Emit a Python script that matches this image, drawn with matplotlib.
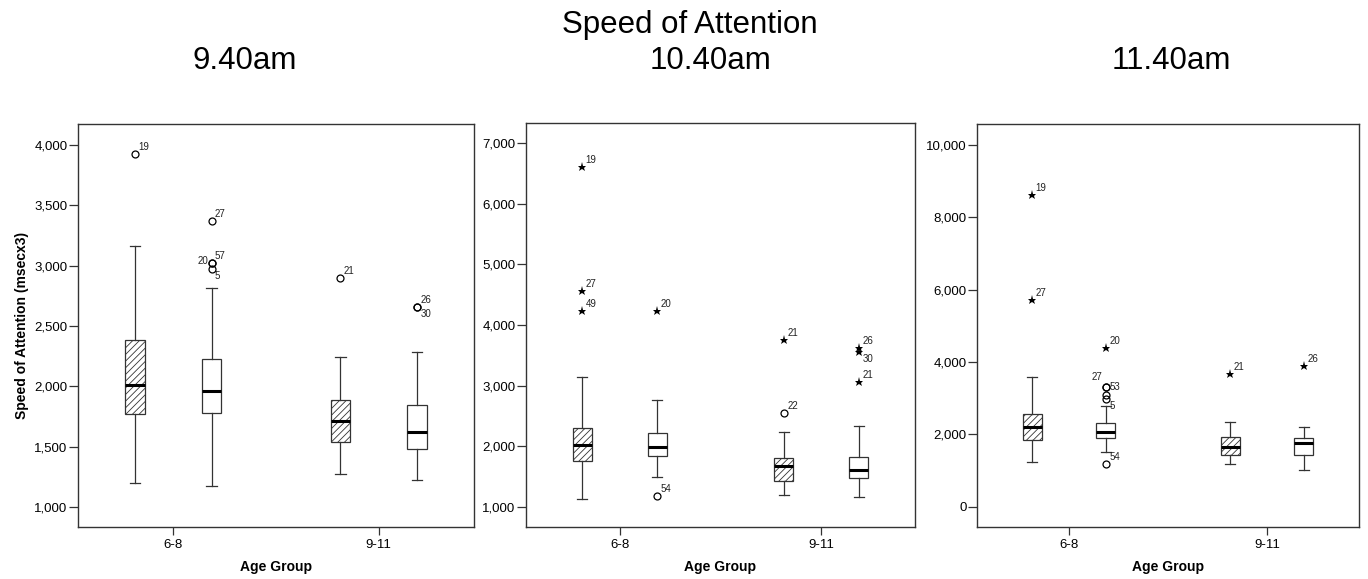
import matplotlib
matplotlib.use("Agg")
import matplotlib.pyplot as plt
from matplotlib.ticker import FuncFormatter

plt.rcParams['font.family'] = ['Liberation Sans', 'DejaVu Sans']
plt.rcParams['hatch.linewidth'] = 0.6
plt.rcParams['hatch.color'] = '#333333'

age_groups = ["6-8", "9-11"]
session_times = ["9.40am", "10.40am", "11.40am"]

# four boxes per session: 6-8 hatched, 6-8 plain, 9-11 hatched, 9-11 plain
low_940 = [1202, 1171, 1277, 1227]
q1_940 = [1774, 1780, 1536, 1484]
med_940 = [2015, 1962, 1713, 1622]
q3_940 = [2382, 2230, 1890, 1841]
high_940 = [3162, 2811, 2239, 2286]
# (box, value, case label, marker)
out_940 = [(0, 3923, "19", "o"), (1, 3370, "27", "o"), (1, 3025, "20", "o"),
           (1, 3025, "57", "o"), (1, 2975, "5", "o"), (2, 2894, "21", "o"),
           (3, 2656, "26", "o"), (3, 2656, "30", "o")]

low_1040 = [1127, 1495, 1187, 1165]
q1_1040 = [1760, 1831, 1424, 1473]
med_1040 = [2024, 1991, 1677, 1611]
q3_1040 = [2305, 2211, 1798, 1826]
high_1040 = [3141, 2761, 2228, 2338]
out_1040 = [(0, 6615, "19", "*"), (0, 4567, "27", "*"), (0, 4237, "49", "*"),
            (1, 4237, "20", "*"), (1, 1182, "54", "o"), (2, 3752, "21", "*"),
            (2, 2541, "22", "o"), (3, 3615, "26", "*"), (3, 3560, "30", "*"),
            (3, 3064, "21", "*")]

low_1140 = [1226, 1512, 1171, 1014]
q1_1140 = [1843, 1908, 1429, 1429]
med_1140 = [2194, 2074, 1641, 1751]
q3_1140 = [2553, 2313, 1917, 1908]
high_1140 = [3585, 2783, 2350, 2212]
out_1140 = [(0, 8618, "19", "*"), (0, 5705, "27", "*"), (1, 4396, "20", "*"),
            (1, 3300, "27", "o"), (1, 3300, "53", "o"), (1, 3088, "", "o"),
            (1, 2977, "5", "o"), (1, 1171, "54", "o"), (2, 3668, "21", "*"),
            (3, 3889, "26", "*")]

# where the case label sits next to its marker: (panel, box, label)
label_side = {(0, 1, "20"): "l", (0, 1, "5"): "lr", (0, 3, "30"): "lr",
              (1, 3, "30"): "lr",
              (2, 1, "27"): "ul", (2, 1, "53"): "r", (2, 1, "5"): "lr"}
side_style = {"ur": ((2.5, 1.5), "left", "bottom"),
              "lr": ((2.5, -1.5), "left", "top"),
              "r": ((3, 0), "left", "center"),
              "l": ((-2.5, 1.5), "right", "center"),
              "ul": ((-2.5, 4), "right", "bottom")}

panels = [
    (low_940, q1_940, med_940, q3_940, high_940, out_940),
    (low_1040, q1_1040, med_1040, q3_1040, high_1040, out_1040),
    (low_1140, q1_1140, med_1140, q3_1140, high_1140, out_1140),
]
ylims = [(834, 4174), (665, 7335), (-561, 10580)]
ysteps = [500, 1000, 2000]
ystarts = [1000, 1000, 0]
ax_px = [(78, 474, 124, 527), (526, 915, 123, 527), (977, 1359, 124, 527)]

W, H = 1368, 579
fig = plt.figure(figsize=(W / 100, H / 100), dpi=100)

dark = '#333333'
offs = 0.186
positions = [1 - offs, 1 + offs, 2 - offs, 2 + offs]

for k, (lo, q1, med, q3, hi, outs) in enumerate(panels):
    l, r, t, b = ax_px[k]
    ax = fig.add_axes([l / W, 1 - b / H, (r - l) / W, (b - t) / H])
    stats = [dict(whislo=lo[i], q1=q1[i], med=med[i], q3=q3[i], whishi=hi[i], fliers=[])
             for i in range(4)]
    bp = ax.bxp(stats, positions=positions, widths=0.095, capwidths=0.05,
                patch_artist=True, showfliers=False, manage_ticks=False,
                boxprops=dict(edgecolor=dark, linewidth=0.9),
                whiskerprops=dict(color=dark, linewidth=0.9),
                capprops=dict(color=dark, linewidth=0.9),
                medianprops=dict(color='black', linewidth=2.2, solid_capstyle='butt'))
    for i, patch in enumerate(bp['boxes']):
        patch.set_facecolor('white')
        if i % 2 == 0:
            patch.set_hatch('/////')

    for box, val, lab, mk in outs:
        x = positions[box]
        if mk == "o":
            ax.plot(x, val, 'o', ms=5, mfc='none', mec='black', mew=0.9, zorder=4)
        else:
            ax.plot(x, val, '*', ms=6.5, color='black', mew=0, zorder=4)
        if lab:
            (dx, dy), ha, va = side_style[label_side.get((k, box, lab), "ur")]
            ax.annotate(lab, (x, val), xytext=(dx, dy), textcoords='offset points',
                        ha=ha, va=va, fontsize=7, color='#222222')

    ax.set_xlim(0.535, 2.465)
    ax.set_ylim(*ylims[k])
    ax.set_xticks([1, 2])
    ax.set_xticklabels(age_groups)
    ax.set_yticks(list(range(ystarts[k], int(ylims[k][1]) + 1, ysteps[k])))
    ax.yaxis.set_major_formatter(FuncFormatter(lambda v, p: f"{int(v):,}"))
    ax.tick_params(axis='both', labelsize=9.5, length=6.5, width=0.9,
                   color=dark, pad=1)
    ax.tick_params(axis='x', length=6, pad=3)
    for s in ax.spines.values():
        s.set_color(dark)
        s.set_linewidth(1.0)
    ax.set_xlabel("Age Group", fontsize=10, fontweight='bold', labelpad=6)
    if k == 0:
        ax.set_ylabel("Speed of Attention (msecx3)", fontsize=10,
                      fontweight='bold', labelpad=4)

fig.text(690 / W, 1 - 33 / H, "Speed of Attention", ha='center', va='baseline',
         fontsize=22.5)
for x_px, txt in zip([245, 710, 1171], session_times):
    fig.text(x_px / W, 1 - 69 / H, txt, ha='center', va='baseline', fontsize=22.5)

fig.savefig("out.png", dpi=100, facecolor='white')
